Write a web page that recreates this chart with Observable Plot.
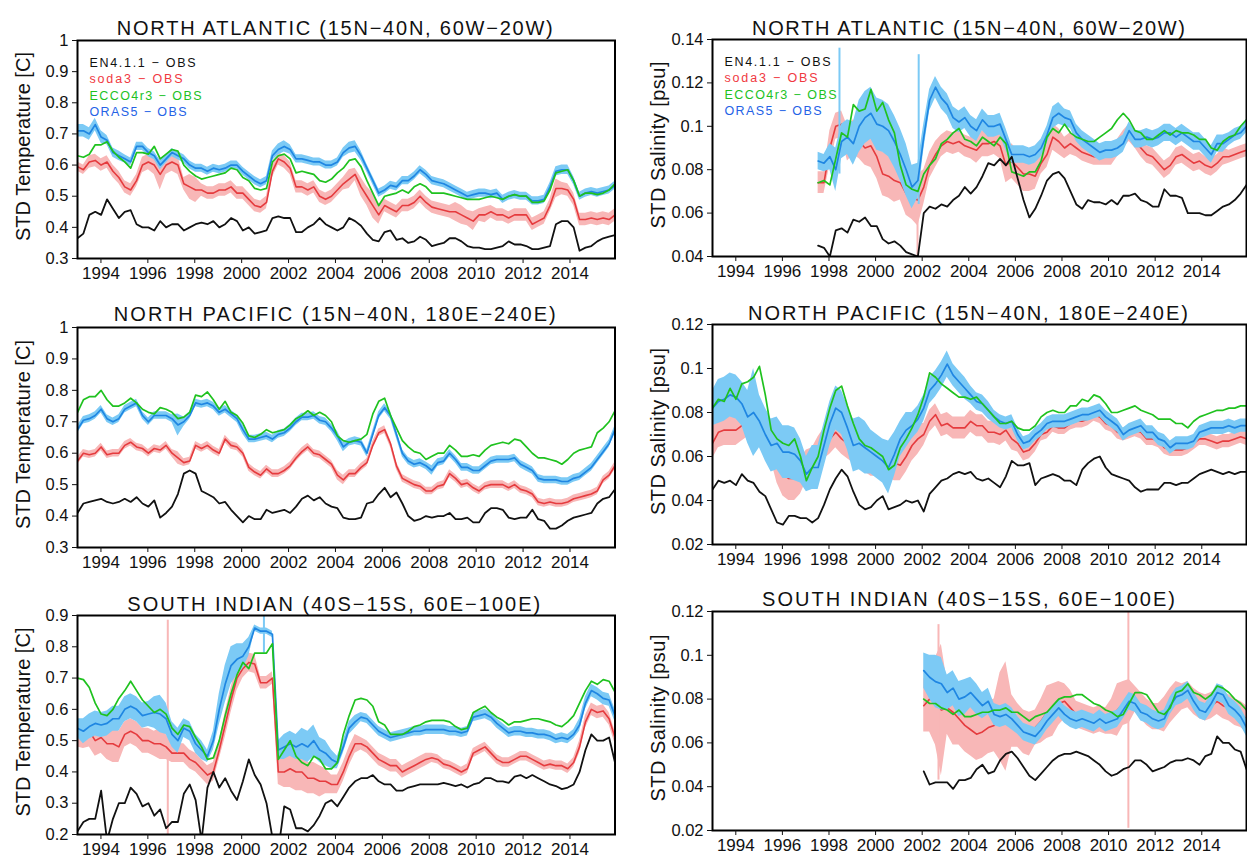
<!DOCTYPE html>
<html>
<head>
<meta charset="utf-8">
<script src="https://cdn.jsdelivr.net/npm/d3@7"></script>
<script src="https://cdn.jsdelivr.net/npm/@observablehq/plot@0.6"></script>
<style>
  body { margin: 0; background: #fff; }
  #fig { position: relative; width: 1247px; height: 859px; background: #fff; overflow: hidden;
         font-family: "Liberation Sans", Arial, sans-serif; }
  #fig > div { position: absolute; }
</style>
</head>
<body>
<div id="fig"></div>
<script>
// ---------------------------------------------------------------------------
// Regional STD of (reanalysis - observation) differences, 1993-2015.
// Values are given every quarter (92 per full record); shorter series
// start later and are aligned with the end of the record.
// ---------------------------------------------------------------------------

const yearTicks = [1994, 1996, 1998, 2000, 2002, 2004, 2006, 2008, 2010, 2012, 2014];
const tempTicksNorth = [0.3, 0.4, 0.5, 0.6, 0.7, 0.8, 0.9, 1];
const tempTicksSouth = [0.2, 0.3, 0.4, 0.5, 0.6, 0.7, 0.8, 0.9];
const salTicksAtlantic = [0.04, 0.06, 0.08, 0.1, 0.12, 0.14];
const salTicksOther = [0.02, 0.04, 0.06, 0.08, 0.1, 0.12];

const legendLabels = ["EN4.1.1 \u2212 OBS", "soda3 \u2212 OBS", "ECCO4r3 \u2212 OBS", "ORAS5 \u2212 OBS"];

// ---------------- North Atlantic, temperature ----------------
const naTempEN4 = [
  .365,.38,.44,.45, .44,.49,.46,.43, .45,.455,.41,.40, .40,.39,.42,.40, .41,.41,.39,.40,
  .41,.415,.41,.42, .40,.41,.43,.42, .39,.40,.38,.385, .39,.43,.435,.43, .43,.385,.385,.40,
  .41,.43,.41,.40, .39,.40,.43,.42, .405,.38,.36,.355, .385,.39,.36,.365, .35,.355,.37,.36,
  .34,.345,.35,.365, .365,.355,.34,.335, .335,.33,.33,.335, .34,.355,.345,.345, .34,.33,.33,.335,
  .34,.41,.42,.42, .40,.325,.335,.34, .355,.365,.37,.375];
const naTempSoda3 = [
  .595,.585,.61,.615, .60,.61,.58,.56, .53,.52,.55,.60, .61,.60,.57,.60, .61,.60,.54,.53,
  .52,.52,.51,.51, .52,.52,.53,.51, .51,.49,.47,.465, .48,.58,.62,.61, .59,.53,.53,.52,
  .53,.50,.49,.50, .52,.54,.555,.57, .53,.50,.47,.44, .47,.46,.45,.47, .47,.48,.50,.48,
  .465,.46,.455,.45, .45,.44,.43,.42, .44,.44,.45,.44, .44,.43,.44,.44, .44,.41,.42,.43,
  .47,.525,.525,.52, .49,.425,.425,.43, .425,.43,.425,.44];
const naTempSoda3Spread = [
  .015,.015,.02,.02, .02,.02,.02,.02, .02,.02,.02,.025, .025,.03,.05,.03, .03,.03,.02,.04,
  .04,.02,.02,.02, .02,.02,.02,.02, .02,.02,.02,.02, .02,.02,.02,.02, .02,.02,.02,.02,
  .02,.02,.02,.02, .02,.02,.03,.02, .03,.03,.04,.03, .02,.02,.02,.02, .02,.02,.02,.02,
  .02,.02,.02,.02, .03,.03,.025,.03, .02,.025,.02,.02, .02,.02,.02,.02, .02,.02,.02,.02,
  .02,.03,.02,.02, .02,.02,.02,.02, .02,.02,.02,.02];
const naTempEcco = [
  .63,.625,.635,.665, .665,.675,.645,.625, .61,.59,.64,.64, .635,.66,.62,.635, .65,.645,.60,.58,
  .565,.555,.56,.565, .57,.575,.59,.585, .56,.55,.525,.52, .525,.61,.63,.635, .62,.575,.58,.575,
  .57,.55,.545,.555, .575,.59,.615,.62, .595,.55,.51,.47, .50,.505,.51,.52, .51,.53,.54,.53,
  .51,.51,.51,.505, .50,.495,.49,.49, .49,.495,.50,.495, .49,.50,.505,.50, .50,.48,.48,.485,
  .52,.575,.58,.585, .55,.50,.51,.51, .505,.51,.52,.54];
const naTempOras5 = [
  .71,.71,.70,.73, .69,.68,.64,.63, .62,.61,.66,.66, .64,.63,.60,.62, .64,.63,.62,.60,
  .59,.59,.58,.59, .585,.59,.60,.60, .58,.565,.55,.54, .55,.63,.65,.66, .65,.62,.62,.615,
  .61,.61,.60,.60, .61,.64,.655,.66, .63,.59,.55,.51, .52,.535,.53,.55, .55,.565,.585,.57,
  .55,.545,.54,.53, .52,.51,.50,.505, .51,.51,.505,.51, .49,.50,.505,.50, .50,.485,.485,.49,
  .53,.58,.585,.585, .55,.50,.51,.515, .51,.515,.52,.535];
const naTempOras5Spread = [
  .02,.02,.02,.02, .02,.015,.015,.015, .013,.013,.013,.013, .013,.013,.015,.013, .013,.013,.013,.013,
  .013,.013,.013,.013, .013,.013,.013,.013, .013,.013,.013,.013, .013,.015,.018,.018, .015,.013,.013,.013,
  .013,.013,.013,.013, .013,.015,.018,.018, .015,.013,.013,.013, .013,.013,.013,.013, .013,.013,.013,.013,
  .013,.013,.013,.013, .013,.013,.013,.013, .013,.013,.013,.013, .013,.013,.013,.013, .013,.013,.013,.013,
  .013,.015,.015,.015, .013,.013,.013,.013, .013,.013,.013,.013];

// ---------------- North Atlantic, salinity (from mid-1997) ----------------
const naSalEN4 = [
  .045,.044, .040,.052,.053,.051, .057,.056,.058,.054, .054,.048,.046,.047, .045,.042,.041,.040,
  .060,.063,.062,.064, .063,.066,.068,.072, .069,.072,.077,.083, .082,.085,.082,.086,
  .076,.066,.058,.062, .068,.075,.078,.079, .076,.070,.064,.062, .066,.065,.065,.064,
  .066,.064,.068,.068, .069,.066,.065,.063, .063,.071,.068,.068, .067,.060,.060,.060,
  .059,.059,.061,.063, .064,.066,.069,.073];
const naSalSoda3 = [
  .074,.074, .090,.100,.101,.092, .095,.093,.090,.091, .086,.078,.077,.075, .074,.069,.067,.066,
  .072,.082,.087,.091, .093,.092,.093,.091, .090,.089,.092,.092, .093,.091,.082,.084,
  .081,.078,.078,.077, .083,.087,.095,.093, .090,.092,.090,.088, .087,.086,.086,.086,
  .086,.090,.094,.097, .094,.090,.087,.086, .083,.080,.082,.086, .087,.085,.083,.084,
  .082,.081,.083,.086, .086,.087,.088,.089];
const naSalSoda3Spread = [
  .005,.005, .008,.006,.006,.008, .008,.008,.008,.01, .01,.01,.01,.01, .008,.01,.01,.012,
  .008,.006,.006,.005, .005,.005,.005,.005, .005,.006,.006,.006, .006,.006,.008,.008,
  .008,.008,.008,.006, .005,.006,.006,.006, .005,.005,.004,.004, .004,.004,.004,.004,
  .004,.004,.004,.004, .004,.004,.004,.004, .004,.004,.004,.004, .004,.004,.004,.004,
  .004,.004,.004,.004, .003,.003,.003,.003];
const naSalEcco = [
  .074,.075, .073,.085,.097,.095, .110,.107,.108,.117, .107,.111,.103,.097, .082,.073,.071,.070,
  .078,.082,.085,.092, .094,.097,.099,.094, .093,.091,.095,.093, .091,.095,.092,.079,
  .078,.077,.079,.079, .084,.095,.099,.097, .101,.097,.095,.094, .093,.093,.095,.097,
  .099,.103,.106,.103, .098,.097,.094,.094, .096,.098,.096,.098, .097,.097,.096,.094,
  .094,.090,.089,.093, .095,.096,.100,.103];
const naSalOras5 = [
  .084,.083, .086,.080,.093,.095, .092,.100,.104,.106, .101,.100,.098,.093, .087,.080,.072,.075,
  .095,.112,.118,.113, .110,.104,.102,.104, .100,.098,.103,.100, .100,.101,.094,.087,
  .087,.087,.086,.087, .090,.096,.104,.106, .104,.103,.097,.094, .092,.090,.088,.089,
  .089,.090,.092,.098, .094,.094,.095,.094, .095,.097,.097,.095, .097,.095,.093,.093,
  .090,.087,.092,.092, .094,.096,.097,.100];
const naSalOras5Spread = [
  .004,.004, .006,.01,.008,.008, .01,.012,.012,.012, .012,.012,.012,.012, .012,.012,.01,.008,
  .006,.005,.005,.005, .005,.005,.005,.005, .005,.005,.005,.005, .005,.005,.005,.004,
  .004,.004,.004,.004, .004,.004,.005,.005, .004,.004,.004,.004, .004,.004,.004,.004,
  .004,.004,.004,.004, .004,.004,.004,.004, .004,.004,.004,.004, .004,.004,.004,.004,
  .004,.004,.004,.004, .003,.003,.003,.003];
// isolated months with very large spread: [year, low, high]
const naSalSoda3Spikes = [[2001.8, 0.04, 0.08]];
const naSalOras5Spikes = [[1998.45, 0.078, 0.136], [2001.85, 0.064, 0.133]];

// ---------------- North Pacific, temperature ----------------
const npTempEN4 = [
  .41,.44,.445,.45, .455,.445,.44,.445, .455,.445,.46,.44, .43,.45,.395,.41, .43,.47,.535,.545,
  .535,.48,.47,.46, .44,.445,.42,.40, .38,.40,.39,.39, .42,.41,.415,.42, .41,.43,.455,.465,
  .45,.46,.44,.43, .425,.395,.39,.39, .395,.44,.445,.47, .49,.46,.475,.44, .40,.385,.39,.40,
  .395,.40,.40,.41, .39,.39,.395,.38, .38,.41,.425,.425, .42,.395,.39,.395, .395,.42,.39,.385,
  .36,.36,.37,.385, .395,.40,.405,.41, .44,.455,.46,.485];
const npTempSoda3 = [
  .575,.60,.595,.60, .62,.595,.60,.60, .625,.635,.62,.615, .60,.615,.61,.625, .60,.585,.57,.575,
  .625,.615,.625,.61, .60,.645,.625,.62, .60,.555,.54,.53, .55,.535,.535,.545, .56,.585,.605,.62,
  .60,.595,.58,.565, .53,.515,.535,.535, .555,.57,.625,.665, .675,.63,.56,.52, .51,.50,.495,.48,
  .48,.495,.50,.535, .52,.50,.505,.49, .48,.495,.50,.50, .50,.49,.50,.485, .48,.47,.445,.44,
  .445,.44,.44,.445, .455,.46,.465,.47, .48,.515,.53,.56];
const npTempSoda3Spread = [
  .012,.012,.012,.012, .012,.012,.012,.012, .012,.012,.012,.012, .012,.012,.012,.012, .012,.02,.012,.012,
  .012,.012,.012,.012, .012,.012,.012,.012, .012,.012,.012,.012, .012,.012,.012,.012, .012,.012,.012,.012,
  .012,.012,.012,.012, .015,.015,.012,.012, .012,.012,.012,.012, .012,.012,.012,.012, .012,.012,.012,.012,
  .012,.012,.012,.012, .012,.012,.012,.012, .012,.012,.012,.012, .012,.012,.012,.012, .012,.012,.012,.012,
  .012,.012,.012,.012, .012,.012,.012,.012, .012,.012,.012,.012];
const npTempEcco = [
  .73,.77,.78,.78, .80,.77,.75,.75, .76,.775,.76,.74, .73,.725,.745,.74, .73,.71,.715,.73,
  .785,.78,.795,.77, .74,.765,.73,.72, .695,.655,.65,.66, .675,.665,.67,.675, .69,.71,.72,.735,
  .72,.73,.72,.70, .655,.64,.635,.64, .645,.66,.725,.765, .775,.72,.68,.64, .62,.605,.60,.58,
  .59,.60,.60,.625, .61,.59,.59,.595, .59,.61,.625,.63, .635,.63,.645,.64, .62,.60,.585,.585,
  .58,.575,.565,.58, .60,.61,.615,.62, .665,.68,.70,.735];
const npTempOras5 = [
  .675,.705,.71,.72, .74,.71,.70,.71, .74,.75,.76,.72, .70,.72,.72,.72, .71,.69,.70,.72,
  .76,.755,.76,.75, .73,.74,.725,.71, .675,.645,.645,.65, .655,.645,.66,.665, .68,.70,.715,.715,
  .72,.705,.70,.68, .655,.62,.635,.64, .635,.60,.66,.72, .745,.72,.66,.60, .575,.565,.57,.56,
  .545,.57,.575,.60, .58,.555,.555,.545, .545,.56,.575,.58, .58,.58,.585,.565, .555,.545,.52,.515,
  .515,.515,.51,.51, .52,.525,.54,.555, .58,.605,.63,.675];
const npTempOras5Spread = [
  .012,.012,.012,.012, .012,.012,.012,.012, .012,.012,.012,.012, .012,.012,.012,.012, .012,.035,.015,.012,
  .012,.012,.012,.012, .012,.012,.012,.012, .015,.012,.012,.012, .012,.012,.012,.012, .012,.012,.012,.012,
  .012,.012,.012,.012, .015,.015,.012,.012, .012,.012,.012,.012, .012,.012,.012,.012, .012,.012,.012,.012,
  .015,.012,.012,.012, .012,.012,.012,.012, .012,.012,.012,.012, .012,.012,.012,.012, .012,.012,.012,.012,
  .012,.012,.012,.012, .012,.012,.012,.012, .012,.012,.012,.012];

// ---------------- North Pacific, salinity ----------------
const npSalEN4 = [
  .045,.049,.048,.049, .047,.052,.049,.048, .044,.042,.036,.030, .029,.033,.033,.032, .032,.030,.032,.038,
  .045,.050,.054,.051, .044,.038,.036,.037, .040,.042,.036,.037, .038,.040,.039,.040, .035,.043,.046,.049,
  .050,.052,.053,.052, .053,.050,.049,.050, .048,.046,.051,.058, .056,.056,.057,.047, .050,.051,.052,.051,
  .049,.049,.047,.054, .057,.059,.060,.055, .052,.051,.050,.049, .046,.044,.045,.045, .045,.048,.048,.047,
  .048,.048,.050,.052, .053,.054,.053,.052, .053,.052,.053,.053];
const npSalSoda3 = [
  .066,.071,.072,.072, .072,.074,.076,.077, .080,.074,.066,.058, .052,.050,.050,.051, .056,.057,.062,.066,
  .068,.071,.068,.066, .064,.062,.060,.058, .058,.058,.058,.057, .056,.060,.065,.068, .070,.076,.079,.074,
  .075,.073,.073,.073, .076,.074,.074,.071, .071,.070,.072,.068, .066,.062,.063,.066, .070,.071,.074,.073,
  .073,.075,.076,.076, .077,.079,.078,.075, .074,.071,.070,.071, .072,.071,.068,.068, .067,.064,.063,.063,
  .063,.064,.066,.068, .068,.067,.066,.067, .067,.068,.069,.068];
const npSalSoda3Spread = [
  .007,.007,.007,.007, .007,.007,.007,.007, .007,.007,.008,.01, .01,.01,.01,.008, .007,.007,.007,.007,
  .007,.007,.007,.007, .007,.007,.007,.007, .007,.007,.008,.008, .007,.007,.007,.007, .005,.005,.005,.005,
  .005,.005,.005,.005, .005,.005,.005,.005, .005,.005,.005,.005, .004,.004,.004,.004, .003,.003,.003,.003,
  .003,.003,.003,.003, .003,.003,.003,.003, .003,.003,.003,.003, .003,.003,.003,.003, .003,.003,.003,.003,
  .003,.003,.003,.003, .003,.003,.003,.003, .003,.003,.003,.003];
const npSalEcco = [
  .082,.086,.085,.091, .086,.093,.094,.096, .101,.088,.072,.068, .066,.065,.068,.060, .049,.055,.060,.072,
  .082,.090,.092,.083, .075,.068,.065,.064, .062,.060,.054,.056, .064,.068,.073,.079, .087,.098,.096,.093,
  .091,.089,.087,.087, .086,.087,.084,.081, .078,.075,.075,.076, .073,.072,.072,.074, .078,.080,.081,.080,
  .080,.083,.083,.086, .085,.088,.087,.084, .080,.080,.081,.082, .083,.081,.080,.079, .077,.077,.077,.075,
  .075,.073,.076,.078, .079,.080,.081,.081, .082,.082,.083,.083];
const npSalOras5 = [
  .082,.085,.086,.088, .087,.084,.078,.080, .076,.070,.065,.066, .062,.062,.061,.058, .052,.055,.055,.065,
  .075,.082,.080,.073, .065,.066,.064,.062, .060,.058,.055,.061, .068,.072,.074,.077, .082,.090,.093,.097,
  .102,.097,.094,.091, .088,.085,.084,.081, .078,.076,.075,.076, .070,.066,.067,.070, .072,.075,.076,.076,
  .076,.077,.078,.079, .079,.080,.081,.078, .076,.074,.070,.072, .073,.074,.071,.071, .068,.067,.064,.066,
  .066,.066,.067,.071, .072,.073,.073,.073, .074,.073,.074,.074];
const npSalOras5Spread = [
  .008,.01,.01,.01, .01,.01,.012,.02, .012,.012,.012,.012, .012,.012,.012,.01, .008,.01,.01,.01,
  .01,.01,.01,.01, .012,.012,.012,.01, .01,.01,.012,.01, .008,.008,.006,.006, .006,.006,.006,.006,
  .006,.005,.005,.005, .004,.004,.004,.004, .003,.003,.003,.003, .003,.003,.003,.003, .003,.003,.003,.003,
  .003,.003,.003,.003, .003,.003,.003,.003, .003,.003,.003,.003, .003,.003,.003,.003, .003,.003,.003,.003,
  .003,.003,.003,.003, .003,.003,.003,.003, .003,.003,.003,.003];

// ---------------- South Indian, temperature ----------------
const siTempEN4 = [
  .21,.24,.25,.25, .34,.18,.25,.30, .30,.35,.33,.29, .30,.26,.28,.22, .24,.24,.33,.36,
  .31,.18,.35,.40, .35,.38,.34,.31, .37,.44,.39,.36, .30,.19,.15,.29, .28,.22,.22,.21,
  .23,.26,.30,.31, .29,.32,.35,.37, .38,.38,.39,.37, .36,.36,.34,.34, .35,.355,.36,.36,
  .36,.36,.365,.36, .355,.36,.35,.36, .365,.38,.38,.37, .37,.365,.385,.39, .38,.39,.38,.37,
  .36,.355,.345,.35, .36,.40,.47,.52, .50,.50,.51,.43];
const siTempSoda3 = [
  .52,.515,.53,.50, .51,.49,.49,.48, .52,.53,.52,.50, .50,.49,.49,.48, .46,.46,.46,.44,
  .43,.41,.39,.40, .47,.55,.63,.70, .73,.75,.745,.685, .685,.70,.40,.40, .41,.40,.40,.38,
  .38,.37,.37,.36, .36,.40,.45,.49, .49,.48,.46,.44, .43,.42,.42,.40, .41,.42,.43,.44,
  .445,.44,.425,.42, .41,.40,.41,.46, .47,.48,.46,.44, .43,.43,.44,.45, .45,.44,.43,.42,
  .425,.42,.42,.41, .43,.48,.56,.60, .59,.595,.57,.51];
const siTempSoda3Spread = [
  .04,.04,.05,.05, .05,.05,.06,.05, .04,.04,.04,.04, .04,.04,.05,.04, .03,.03,.03,.03,
  .03,.03,.03,.03, .03,.04,.04,.04, .03,.03,.03,.02, .02,.02,.04,.05, .06,.06,.06,.05,
  .05,.05,.04,.03, .03,.03,.03,.03, .02,.02,.02,.02, .02,.02,.02,.02, .02,.02,.02,.02,
  .015,.015,.015,.015, .015,.015,.015,.015, .015,.015,.015,.015, .015,.015,.015,.015, .015,.015,.015,.015,
  .015,.015,.015,.015, .015,.02,.02,.02, .02,.02,.02,.02];
const siTempEcco = [
  .70,.695,.67,.62, .585,.58,.60,.635, .66,.69,.66,.63, .61,.59,.60,.585, .54,.52,.55,.545,
  .51,.48,.44,.445, .50,.58,.65,.71, .75,.73,.78,.78, .78,.81,.44,.47, .50,.45,.43,.42,
  .45,.44,.41,.41, .43,.52,.58,.63, .635,.63,.61,.56, .55,.52,.52,.52, .53,.545,.55,.56,
  .565,.565,.565,.56, .545,.535,.54,.59, .60,.61,.59,.575, .565,.55,.56,.56, .565,.57,.57,.565,
  .56,.55,.545,.56, .58,.62,.66,.69, .68,.695,.69,.655];
const siTempOras5 = [
  .54,.53,.545,.555, .55,.555,.57,.57, .60,.61,.60,.58, .585,.59,.585,.57, .52,.50,.54,.53,
  .49,.47,.45,.50, .60,.68,.74,.76, .77,.80,.86,.85, .85,.84,.47,.48, .49,.48,.49,.48,
  .50,.47,.46,.44, .43,.48,.54,.56, .575,.57,.55,.53, .52,.51,.515,.52, .525,.53,.53,.535,
  .535,.535,.535,.53, .53,.525,.53,.575, .58,.585,.575,.555, .54,.525,.53,.53, .525,.525,.52,.52,
  .515,.505,.51,.505, .52,.55,.62,.66, .65,.635,.63,.58];
const siTempOras5Spread = [
  .03,.04,.04,.04, .04,.04,.04,.04, .04,.04,.04,.04, .04,.05,.06,.05, .04,.04,.03,.03,
  .03,.03,.02,.03, .05,.06,.06,.05, .04,.03,.01,.01, .01,.01,.03,.04, .04,.04,.05,.05,
  .05,.04,.04,.03, .02,.02,.02,.02, .015,.015,.015,.015, .015,.015,.015,.015, .015,.015,.015,.015,
  .015,.015,.015,.015, .015,.015,.015,.015, .015,.015,.015,.015, .015,.015,.015,.015, .015,.015,.015,.015,
  .015,.015,.015,.015, .015,.02,.02,.02, .02,.02,.02,.02];
const siTempSoda3Spikes = [[1996.85, 0.2, 0.885]];
const siTempOras5Spikes = [[2000.95, 0.78, 0.92]];

// ---------------- South Indian, salinity (from 2002) ----------------
const siSalEN4 = [
  .047,.041,.042,.042, .042,.039,.043,.043, .044,.048,.050,.046, .047,.052,.055,.056,
  .053,.049,.045,.043, .046,.049,.052,.054, .055,.055,.056,.055, .054,.052,.050,.047,
  .045,.046,.048,.049, .052,.052,.050,.047, .048,.049,.051,.052, .052,.053,.052,.050,
  .054,.055,.063,.060, .060,.057,.056,.048];
const siSalSoda3 = [
  .077,.080,.079,.075, .076,.074,.071,.068, .066,.064,.065,.067, .068,.072,.072,.070,
  .068,.065,.064,.067, .070,.074,.075,.078, .079,.076,.073,.072, .071,.070,.071,.070,
  .072,.075,.078,.079, .080,.077,.074,.072, .072,.073,.077,.080, .081,.082,.079,.077,
  .076,.077,.079,.077, .076,.074,.073,.071];
const siSalSoda3Spread = [
  .012,.015,.02,.03, .012,.015,.012,.012, .012,.012,.012,.012, .012,.02,.025,.012,
  .01,.01,.01,.008, .01,.012,.012,.01, .008,.008,.006,.006, .006,.006,.006,.006,
  .008,.012,.01,.01, .006,.006,.006,.006, .006,.008,.008,.008, .006,.006,.006,.006,
  .006,.006,.006,.006, .006,.006,.006,.006];
const siSalEcco = [
  .080,.078,.078,.076, .075,.073,.075,.072, .072,.073,.074,.074, .075,.075,.076,.074,
  .074,.072,.070,.072, .073,.074,.077,.080, .081,.081,.082,.082, .080,.078,.077,.075,
  .074,.072,.073,.078, .083,.083,.082,.078, .074,.073,.076,.083, .084,.087,.083,.082,
  .080,.082,.086,.085, .083,.080,.078,.075];
const siSalOras5 = [
  .093,.090,.088,.087, .083,.085,.080,.081, .083,.080,.077,.079, .073,.072,.073,.071,
  .068,.065,.064,.063, .066,.070,.073,.076, .073,.071,.070,.071, .070,.069,.071,.069,
  .070,.071,.075,.079, .078,.074,.073,.071, .070,.071,.077,.081, .082,.084,.079,.075,
  .074,.078,.083,.082, .077,.075,.072,.067];
const siSalOras5Spread = [
  .008,.01,.012,.012, .008,.008,.008,.008, .007,.007,.006,.006, .005,.005,.005,.005,
  .004,.004,.004,.004, .004,.004,.004,.004, .004,.004,.004,.004, .004,.004,.004,.004,
  .004,.004,.004,.004, .004,.004,.004,.004, .004,.004,.004,.004, .004,.004,.004,.004,
  .004,.004,.004,.004, .004,.004,.004,.004];
const siSalSoda3Spikes = [[2002.7, 0.043, 0.114], [2010.85, 0.021, 0.12]];

// ---------------------------------------------------------------------------
const T0 = 1993, T1 = 2015.92, NQ = 92;
const quarterTimes = d3.range(NQ).map(i => T0 + i * (T1 - T0) / (NQ - 1));

function toRows(values, spread) {
  const off = NQ - values.length;
  return values.map((v, i) => ({
    t: quarterTimes[off + i], v,
    lo: spread ? v - spread[i] : null,
    hi: spread ? v + spread[i] : null
  }));
}

const colors = {
  obs: "#111111", red: "#e53b3e", pink: "#f8b7b7", green: "#1fc21f",
  blue: "#1f86e2", sky: "#7ccaf5"
};
const legendColors = ["#111111", "#f0393f", "#21c21f", "#2462e6"];
const legendWidths = [106, 93, 112, 97];

const tempLabel = "STD Temperature [C]";
const salLabel = "STD Salinity [psu]";

const panels = [
  { title: "NORTH ATLANTIC (15N\u221240N, 60W\u221220W)", ylabel: tempLabel, domain: [0.3, 1], ticks: tempTicksNorth,
    en4: naTempEN4, soda3: naTempSoda3, soda3Spread: naTempSoda3Spread, ecco: naTempEcco,
    oras5: naTempOras5, oras5Spread: naTempOras5Spread, legend: true },
  { title: "NORTH ATLANTIC (15N\u221240N, 60W\u221220W)", ylabel: salLabel, domain: [0.04, 0.14], ticks: salTicksAtlantic,
    en4: naSalEN4, soda3: naSalSoda3, soda3Spread: naSalSoda3Spread, ecco: naSalEcco,
    oras5: naSalOras5, oras5Spread: naSalOras5Spread,
    soda3Spikes: naSalSoda3Spikes, oras5Spikes: naSalOras5Spikes, legend: true },
  { title: "NORTH PACIFIC (15N\u221240N, 180E\u2212240E)", ylabel: tempLabel, domain: [0.3, 1], ticks: tempTicksNorth,
    en4: npTempEN4, soda3: npTempSoda3, soda3Spread: npTempSoda3Spread, ecco: npTempEcco,
    oras5: npTempOras5, oras5Spread: npTempOras5Spread },
  { title: "NORTH PACIFIC (15N\u221240N, 180E\u2212240E)", ylabel: salLabel, domain: [0.02, 0.12], ticks: salTicksOther,
    en4: npSalEN4, soda3: npSalSoda3, soda3Spread: npSalSoda3Spread, ecco: npSalEcco,
    oras5: npSalOras5, oras5Spread: npSalOras5Spread },
  { title: "SOUTH INDIAN (40S\u221215S, 60E\u2212100E)", ylabel: tempLabel, domain: [0.2, 0.9], ticks: tempTicksSouth,
    en4: siTempEN4, soda3: siTempSoda3, soda3Spread: siTempSoda3Spread, ecco: siTempEcco,
    oras5: siTempOras5, oras5Spread: siTempOras5Spread,
    soda3Spikes: siTempSoda3Spikes, oras5Spikes: siTempOras5Spikes },
  { title: "SOUTH INDIAN (40S\u221215S, 60E\u2212100E)", ylabel: salLabel, domain: [0.02, 0.12], ticks: salTicksOther,
    en4: siSalEN4, soda3: siSalSoda3, soda3Spread: siSalSoda3Spread, ecco: siSalEcco,
    oras5: siSalOras5, oras5Spread: siSalOras5Spread, soda3Spikes: siSalSoda3Spikes }
];

// page placement of each panel
const boxes = [
  { left: 0,   top: 0,   height: 290, mt: 40, mb: 32, ml: 77, mr: 5.5, tdx: -11.5, tdy: -19.5, tw: 436, lw: 189 },
  { left: 627, top: 0,   height: 290, mt: 39, mb: 34, ml: 85, mr: 1,   tdx: -11,   tdy: -19,   tw: 433, lw: 167 },
  { left: 0,   top: 290, height: 290, mt: 37, mb: 33, ml: 77, mr: 5.5, tdx: -11.5, tdy: -20.5, tw: 442, lw: 189 },
  { left: 627, top: 290, height: 290, mt: 34, mb: 36, ml: 85, mr: 1,   tdx: -11.5, tdy: -19,   tw: 440, lw: 167 },
  { left: 0,   top: 580, height: 279, mt: 35, mb: 25, ml: 77, mr: 5.5, tdx: -12.5, tdy: -18.5, tw: 413, lw: 189 },
  { left: 627, top: 580, height: 279, mt: 31, mb: 29, ml: 85, mr: 1,   tdx: -11,   tdy: -19.5, tw: 413, lw: 167 }
];

const fig = document.getElementById("fig");

panels.forEach((p, k) => {
  const b = boxes[k];
  const red = toRows(p.soda3, p.soda3Spread);
  const blue = toRows(p.oras5, p.oras5Spread);
  const green = toRows(p.ecco);
  const black = toRows(p.en4);
  const spike = (data, color) => Plot.ruleX(data || [], {
    x: d => d[0], y1: d => d[1], y2: d => d[2], stroke: color, strokeWidth: 2, clip: true
  });

  const marks = [
    Plot.areaY(red, {x: "t", y1: "lo", y2: "hi", fill: colors.pink, clip: true}),
    spike(p.soda3Spikes, colors.pink),
    Plot.lineY(red, {x: "t", y: "v", stroke: colors.red, strokeWidth: 1.6, clip: true}),
    Plot.areaY(blue, {x: "t", y1: "lo", y2: "hi", fill: colors.sky, clip: true}),
    spike(p.oras5Spikes, colors.sky),
    Plot.lineY(blue, {x: "t", y: "v", stroke: colors.blue, strokeWidth: 1.7, clip: true}),
    Plot.lineY(green, {x: "t", y: "v", stroke: colors.green, strokeWidth: 1.7, clip: true}),
    Plot.lineY(black, {x: "t", y: "v", stroke: colors.obs, strokeWidth: 1.8, clip: true}),
    Plot.frame({stroke: "#000", strokeWidth: 2}),
    Plot.axisX(yearTicks, {tickSize: 5, tickPadding: 3, fontSize: 17, tickFormat: d => String(d), label: null}),
    Plot.axisY(p.ticks, {tickSize: 5, tickPadding: 4, fontSize: 16.5, tickFormat: d3.format("~g"), label: null}),
    Plot.text([p.title], {frameAnchor: "top", textAnchor: "middle", dx: b.tdx, dy: b.tdy, fontSize: 20, fill: "#111"}),
    Plot.text([p.ylabel], {frameAnchor: "left", textAnchor: "middle", dx: -54, dy: -3, rotate: -90, fontSize: 20, fill: "#111"})
  ];
  if (p.legend) {
    legendLabels.forEach((lab, j) => {
      marks.push(Plot.text([lab], {
        frameAnchor: "top-left", textAnchor: "start", dx: 12, dy: 17.5 + j * 16.5,
        fontSize: 12.5, fill: legendColors[j]
      }));
    });
  }

  const svg = Plot.plot({
    width: 620, height: b.height,
    marginTop: b.mt, marginBottom: b.mb, marginLeft: b.ml, marginRight: b.mr,
    x: {domain: [T0, T1]},
    y: {domain: p.domain},
    style: {fontFamily: "'Liberation Sans', Arial, sans-serif", background: "transparent", overflow: "visible", color: "#111"},
    marks
  });

  // stretch the wide-set labels to their printed widths
  const widths = new Map([[p.title, b.tw], [p.ylabel, b.lw]]);
  legendLabels.forEach((lab, j) => widths.set(lab, legendWidths[j]));
  d3.select(svg).selectAll("text").each(function () {
    const w = widths.get(this.textContent);
    if (w) { this.setAttribute("textLength", w); this.setAttribute("lengthAdjust", "spacing"); }
  });

  const holder = document.createElement("div");
  holder.style.left = b.left + "px";
  holder.style.top = b.top + "px";
  holder.appendChild(svg);
  fig.appendChild(holder);
});
</script>
</body>
</html>
